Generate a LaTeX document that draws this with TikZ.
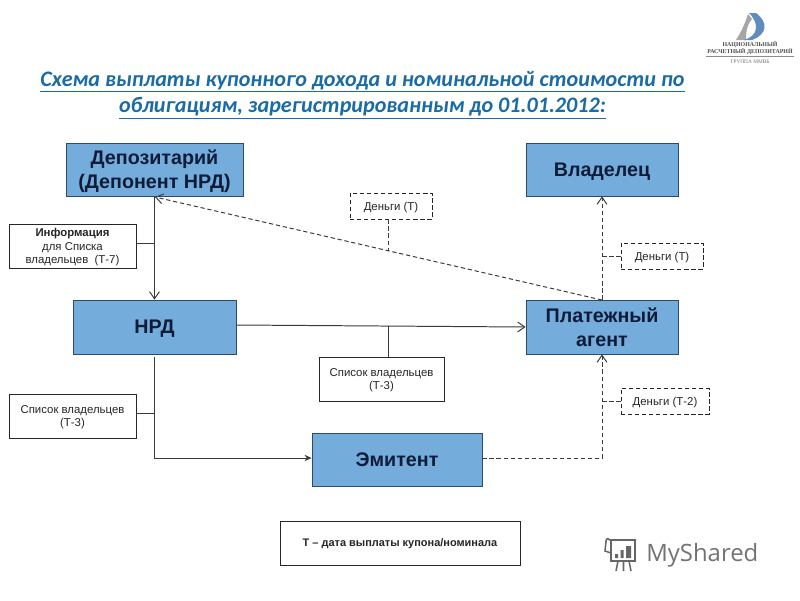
\documentclass[tikz,border=0pt]{standalone}
\usepackage{fontspec}
\setmainfont{Liberation Sans}
\newfontfamily\titlefont{Carlito}
\newfontfamily\logofont{Liberation Serif}
\newfontfamily\markfont{Open Sans}
\usetikzlibrary{arrows.meta}
\definecolor{boxblue}{HTML}{74ACDC}
\definecolor{boxedge}{HTML}{2E4A66}
\definecolor{textdark}{HTML}{0E1C38}
\definecolor{titleblue}{HTML}{1A6BA6}
\definecolor{linegray}{HTML}{3A3A3A}
\definecolor{logoblue}{HTML}{5F8DBE}
\tikzset{
  mainbox/.style={draw=boxedge,fill=boxblue,line width=0.6pt,align=center,text=textdark,
    font=\fontsize{14}{17.2}\selectfont\bfseries,inner sep=0pt,text depth=0pt},
  notebox/.style={draw=black!85,fill=white,line width=0.6pt,align=center,text=black!85,
    font=\fontsize{8.1}{9.8}\selectfont,inner sep=0pt,text depth=0pt},
  moneybox/.style={notebox,densely dashed},
  solidline/.style={draw=linegray,line width=0.7pt},
  dashline/.style={draw=linegray,line width=0.7pt,densely dashed},
  opentip/.style={-{Straight Barb[length=5pt,width=7pt]}},
  filltip/.style={-{Stealth[length=5pt,width=4.5pt]}},
}
\begin{document}
\begin{tikzpicture}[x=0.025cm,y=-0.025cm]
  \useasboundingbox (0,0) rectangle (800,600);

  % title
  \node (title) [align=center,text=titleblue,font=\fontsize{15.75}{19}\selectfont\titlefont\bfseries\itshape]
    at (362.5,95) {\underline{Схема выплаты купонного дохода и номинальной стоимости по}\\
    \underline{облигациям, зарегистрированным до 01.01.2012:}};

  % main boxes
  \node (depo) [mainbox,minimum width=177*0.025cm,minimum height=53*0.025cm] at (154.5,169.5) {Депозитарий\\(Депонент НРД)};
  \node (nrd) [mainbox,minimum width=163*0.025cm,minimum height=54*0.025cm] at (154.5,327) {НРД};
  \node (owner) [mainbox,minimum width=152*0.025cm,minimum height=53*0.025cm] at (602,169.5) {Владелец};
  \node (agent) [mainbox,minimum width=152*0.025cm,minimum height=54*0.025cm] at (602,327) {Платежный\\агент};
  \node (emit) [mainbox,minimum width=170*0.025cm,minimum height=53*0.025cm] at (397,459.5) {Эмитент};

  % notes
  \node (infonote) [notebox,minimum width=127*0.025cm,minimum height=44*0.025cm] at (72.5,246)
    {\textbf{Информация}\\для Списка\\владельцев\ \ (Т-7)};
  \node (listleft) [notebox,minimum width=127*0.025cm,minimum height=44*0.025cm] at (72.5,416) {Список владельцев\\(Т-3)};
  \node (listmid) [notebox,minimum width=125*0.025cm,minimum height=44*0.025cm] at (381.5,379) {Список владельцев\\(Т-3)};
  \node (legend) [notebox,minimum width=240*0.025cm,minimum height=44*0.025cm,font=\fontsize{7.8}{9.8}\selectfont] at (400,543) {\textbf{Т – дата выплаты купона/номинала}};
  \node (moneytop) [moneybox,minimum width=82*0.025cm,minimum height=26*0.025cm] at (391,206) {Деньги (Т)};
  \node (moneyright) [moneybox,minimum width=82*0.025cm,minimum height=26*0.025cm] at (662,256) {Деньги (Т)};
  \node (moneylow) [moneybox,minimum width=88*0.025cm,minimum height=26*0.025cm] at (665,401) {Деньги (Т-2)};

  % points on the lines
  \coordinate (nrdout) at (154.5,357);
  \coordinate (emitcorner) at (154.5,458);
  \coordinate (infojoin) at (154.5,243);
  \coordinate (listjoin) at (154.5,413);
  \coordinate (midjoin) at (388,326);
  \coordinate (agenttop) at (602,300);
  \coordinate (topjoin) at (388,250.5);
  \coordinate (rightjoin) at (602,256);
  \coordinate (lowjoin) at (602,401);
  \coordinate (lowcorner) at (602,458);
  \coordinate (depotip) at (155,197);

  % solid lines
  \draw [solidline,opentip] (depo.south) -- (nrd.north);
  \draw [solidline] (infonote.east |- infojoin) -- (infojoin);
  \draw [solidline,opentip] (nrd.east |- 0,325) -- (agent.west);
  \draw [solidline] (midjoin) -- (midjoin |- listmid.north);
  \draw [solidline,filltip] (nrdout) -- (emitcorner) -- (emit.west |- emitcorner);
  \draw [solidline] (listleft.east |- listjoin) -- (listjoin);

  % dashed lines
  \draw [dashline,opentip] (agenttop) -- (depotip);
  \draw [dashline] (moneytop.south -| topjoin) -- (topjoin);
  \draw [dashline,opentip] (agent.north) -- (owner.south);
  \draw [dashline] (moneyright.west) -- (rightjoin);
  \draw [dashline,opentip] (emit.east |- lowcorner) -- (lowcorner) -- (agent.south);
  \draw [dashline] (moneylow.west) -- (lowjoin);

  % logo
  \fill [black!35] (748,14) .. controls (745,24) and (741,32) .. (736,40) -- (746,40) .. controls (746,32) and (747,24) .. (752,19) -- cycle;
  \fill [logoblue] (749,13) -- (756,13) .. controls (768,22) and (768,34) .. (752,40) -- (744,40) .. controls (758,36) and (760,24) .. cycle;
  \node (logotext) [align=center,text=black!70,inner sep=0pt,font=\fontsize{4.2}{4.9}\selectfont\logofont\bfseries] at (750,48) {НАЦИОНАЛЬНЫЙ\\РАСЧЕТНЫЙ ДЕПОЗИТАРИЙ};
  \draw [black!45,line width=0.4pt] (706,56) -- (794,56);
  \node (logogroup) [text=black!55,inner sep=0pt,font=\fontsize{3.8}{4.5}\selectfont\logofont] at (750,62) {ГРУППА ММВБ};

  % watermark
  \draw [black!60,line width=1.1pt] (606,541) .. controls (606,538) and (609,538) .. (610,540) -- (636,540) (611,540) -- (611,561) -- (635,561) -- (635,540);
  \draw [black!60,line width=1.1pt] (606,541) -- (605,551) -- (611,553) (618,561) -- (616,571) (629,561) -- (631,571) (623.5,561) -- (623.5,571);
  \fill [black!60] (615,554) rectangle (618,558) (620.5,550) rectangle (623.5,558) (626,546) rectangle (631,558);
  \node (watermark) [anchor=west,text=black!55,inner sep=0pt,font=\fontsize{17}{22}\selectfont\markfont] at (646,555) {MyShared};
\end{tikzpicture}
\end{document}
